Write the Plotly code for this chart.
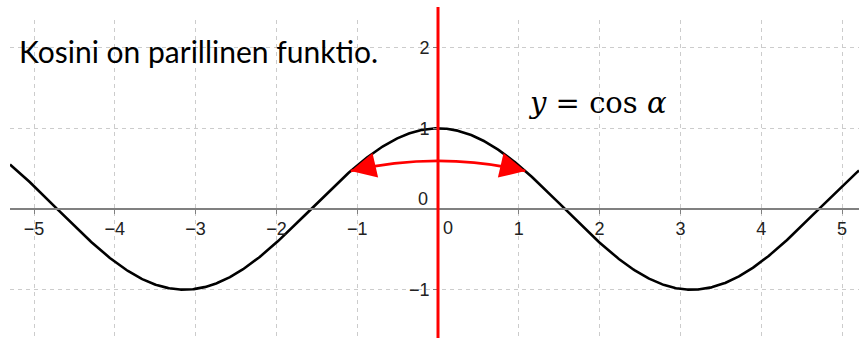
import numpy as np
import plotly.graph_objects as go

# Visible window of the coordinate plane (data units)
x_window = [-5.297, 5.210]
y_window = [-1.599, 2.343]

# Integer ticks labelled on each axis (the origin is labelled separately)
x_ticks = [-5, -4, -3, -2, -1, 1, 2, 3, 4, 5]
y_ticks = [-1, 1, 2]

# y = cos α sampled across the whole window
alpha = np.linspace(x_window[0], x_window[1], 800)
cos_values = np.cos(alpha)

# Double arrow joining the points at -α and +α
arrow_alpha = 1.08
arrow_control_y = 0.72

heading = "Kosini on parillinen funktio."
formula = "<i>y</i> = cos <i>α</i>"

W, H = 859, 338
ML, MR, MT, MB = 10, 0, 20, 0
PW, PH = W - ML - MR, H - MT - MB


def px_x(p):
    return (p - ML) / PW


def px_y(p):
    return (H - MB - p) / PH


x_axis_pos = (0 - y_window[0]) / (y_window[1] - y_window[0])
y_axis_pos = (0 - x_window[0]) / (x_window[1] - x_window[0])

fig = go.Figure()

fig.add_trace(go.Scatter(
    x=alpha, y=cos_values, mode="lines",
    line=dict(color="black", width=2.6), hoverinfo="skip",
))

# red vertical axis drawn over the y-axis
fig.add_shape(type="line", xref="x", yref="paper", x0=0, x1=0, y0=0, y1=1.041,
              line=dict(color="#ff0000", width=3), layer="above")

# arc between the two symmetric points
ya = float(np.cos(arrow_alpha))
fig.add_shape(
    type="path", xref="x", yref="y",
    path=f"M {-arrow_alpha},{ya} Q 0,{arrow_control_y} {arrow_alpha},{ya}",
    line=dict(color="#ff0000", width=2.8), layer="above",
)

# arrow heads at both ends, pointing along the arc tangent
slope = (arrow_control_y - ya) / arrow_alpha
for sgn in (-1, 1):
    tip_x = sgn * arrow_alpha
    tail_x = tip_x - sgn * 0.25
    tail_y = ya + 0.25 * slope
    fig.add_annotation(
        x=tip_x, y=ya, ax=tail_x, ay=tail_y, xref="x", yref="y", axref="x", ayref="y",
        text="", showarrow=True, arrowhead=2, arrowsize=1.8, arrowwidth=2.8,
        arrowcolor="#ff0000", standoff=0,
    )

tickfont = dict(family="Liberation Sans", size=18, color="#222")

# origin labels
fig.add_annotation(x=0, y=0, xref="x", yref="y", text="0", showarrow=False,
                   xshift=10, yshift=-19, font=tickfont)
fig.add_annotation(x=0, y=0, xref="x", yref="y", text="0", showarrow=False,
                   xshift=-15, yshift=10, font=tickfont)

fig.add_annotation(x=px_x(17), y=px_y(51), xref="paper", yref="paper", text=heading,
                   showarrow=False, xanchor="left", yanchor="middle",
                   font=dict(family="Lato", size=30, color="black"))
fig.add_annotation(x=px_x(597), y=px_y(103), xref="paper", yref="paper", text=formula,
                   showarrow=False, xanchor="center", yanchor="middle",
                   font=dict(family="DejaVu Serif", size=29, color="black"))

grid = dict(showgrid=True, gridcolor="#cccccc", gridwidth=1, griddash="4px,4px", zeroline=False)

fig.update_xaxes(range=x_window, tickvals=x_ticks, **grid,
                 showline=True, linecolor="#808080", linewidth=1.6,
                 anchor="free", position=x_axis_pos,
                 ticks="outside", ticklen=4, tickcolor="#808080", tickfont=tickfont)
fig.update_yaxes(range=y_window, tickvals=y_ticks, **grid,
                 showline=True, linecolor="#808080", linewidth=1.6,
                 anchor="free", position=y_axis_pos,
                 ticks="outside", ticklen=4, tickcolor="#808080", tickfont=tickfont)

fig.update_layout(width=W, height=H, margin=dict(l=ML, r=MR, t=MT, b=MB),
                  paper_bgcolor="white", plot_bgcolor="white", showlegend=False)

fig.write_html("out.html")
